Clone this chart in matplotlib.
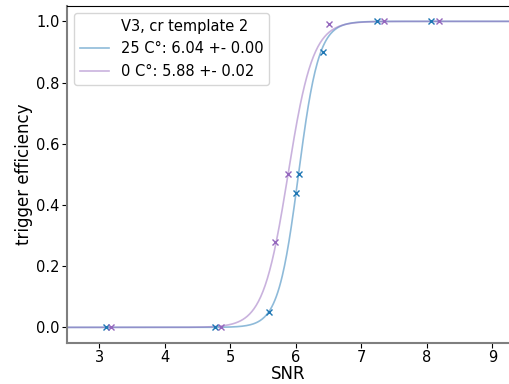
import numpy as np
import matplotlib
matplotlib.use("Agg")
import matplotlib.pyplot as plt

# measured points (SNR, efficiency)
snr_25 = [3.10, 4.76, 5.59, 6.00, 6.04, 6.42, 7.24, 8.07]
eff_25 = [0.0, 0.0, 0.05, 0.44, 0.50, 0.90, 1.0, 1.0]
snr_0 = [3.17, 4.85, 5.68, 5.88, 6.51, 7.35, 8.19]
eff_0 = [0.0, 0.0, 0.28, 0.50, 0.99, 1.0, 1.0]

# fitted sigmoid parameters (center, width)
fit_25 = (6.04, 0.155)
fit_0 = (5.88, 0.19)

labels = ["25 C°: 6.04 +- 0.00", "0 C°: 5.88 +- 0.02"]
legend_title = "V3, cr template 2"

blue = "#1f77b4"
purple = "#9467bd"


def sigmoid(x, c, s):
    return 1.0 / (1.0 + np.exp(-(x - c) / s))


fig = plt.figure(figsize=(5.1, 3.84), dpi=100)
ax = fig.add_axes([0.1308, 0.1076, 0.8692, 0.8766])

xs = np.linspace(2.5, 9.3, 600)
# empty entry carries the legend heading
ax.plot([], [], " ", label=legend_title)
ax.plot(xs, sigmoid(xs, *fit_25), color=blue, alpha=0.5, lw=1.2, label=labels[0])
ax.plot(xs, sigmoid(xs, *fit_0), color=purple, alpha=0.5, lw=1.2, label=labels[1])
ax.plot(snr_25, eff_25, "x", color=blue, ms=4.5, mew=1.0)
ax.plot(snr_0, eff_0, "x", color=purple, ms=4.5, mew=1.0)

ax.set_xlim(2.5, 9.27)
ax.set_ylim(-0.05, 1.05)
ax.set_xticks([3, 4, 5, 6, 7, 8, 9])
ax.set_yticks([0.0, 0.2, 0.4, 0.6, 0.8, 1.0])
ax.tick_params(labelsize=10.5, pad=1.5)
ax.set_xlabel("SNR", fontsize=12, labelpad=0)
ax.set_ylabel("trigger efficiency", fontsize=12, labelpad=2)

ax.spines["right"].set_visible(False)
ax.spines["left"].set_color("#7f7f7f")
ax.spines["bottom"].set_color("#7f7f7f")
ax.spines["left"].set_linewidth(1.5)
ax.spines["bottom"].set_linewidth(1.5)

ax.legend(loc="upper left", fontsize=10.5)

fig.savefig("out.png", dpi=100)
